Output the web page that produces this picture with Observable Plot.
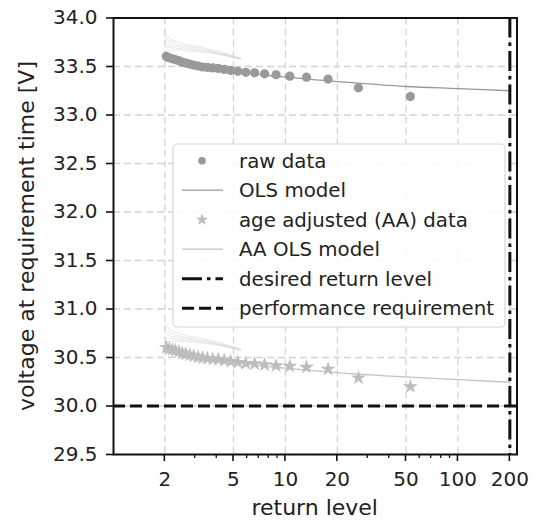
<!DOCTYPE html>
<html><head><meta charset="utf-8">
<script src="https://cdn.jsdelivr.net/npm/d3@7"></script>
<script src="https://cdn.jsdelivr.net/npm/@observablehq/plot@0.6"></script>
<style>
body{margin:0;background:#fff}
svg{font-family:"DejaVu Sans";}
</style>
</head><body><div id="chart"></div>
<script>
// ---- data ----
const returnLevels = [53, 26.5, 17.67, 13.25, 10.6, 8.83, 7.57, 6.63, 5.89, 5.3, 4.82, 4.42, 4.08, 3.79, 3.53, 3.31, 3.12, 2.94, 2.79, 2.65, 2.52, 2.41, 2.30, 2.21, 2.12, 2.04];
const rawVoltage = [33.19, 33.28, 33.37, 33.39, 33.40, 33.415, 33.425, 33.435, 33.44, 33.45, 33.46, 33.47, 33.48, 33.485, 33.49, 33.495, 33.505, 33.515, 33.525, 33.535, 33.545, 33.56, 33.57, 33.58, 33.59, 33.605];
const aaVoltage = [30.20, 30.29, 30.38, 30.40, 30.41, 30.415, 30.425, 30.435, 30.44, 30.45, 30.46, 30.47, 30.48, 30.485, 30.49, 30.495, 30.505, 30.515, 30.525, 30.535, 30.545, 30.56, 30.57, 30.58, 30.59, 30.605];

const modelX = [2, 3, 5, 8, 10, 20, 50, 100, 200];
const olsRaw = [33.56, 33.50, 33.45, 33.407, 33.39, 33.345, 33.294, 33.272, 33.25];
const olsAA = [30.56, 30.50, 30.45, 30.405, 30.39, 30.345, 30.30, 30.272, 30.245];

const fanX = [2.0, 2.03, 2.1, 2.2, 2.4, 2.7, 3.2, 3.8, 4.5, 5.5];
const fanRaw = [
  [33.88, 33.84, 33.80, 33.775, 33.75, 33.725, 33.70, 33.67, 33.635, 33.59],
  [33.82, 33.79, 33.765, 33.745, 33.725, 33.705, 33.685, 33.66, 33.625, 33.585],
  [33.76, 33.745, 33.73, 33.72, 33.705, 33.69, 33.67, 33.65, 33.62, 33.58],
  [33.70, 33.70, 33.70, 33.695, 33.685, 33.675, 33.66, 33.64, 33.615, 33.578],
  [33.64, 33.655, 33.665, 33.67, 33.67, 33.66, 33.65, 33.635, 33.61, 33.575]
];
const fanAA = [
  [30.88, 30.84, 30.80, 30.775, 30.75, 30.725, 30.70, 30.67, 30.635, 30.59],
  [30.82, 30.79, 30.765, 30.745, 30.725, 30.705, 30.685, 30.66, 30.625, 30.585],
  [30.76, 30.745, 30.73, 30.72, 30.705, 30.69, 30.67, 30.65, 30.62, 30.58],
  [30.70, 30.70, 30.70, 30.695, 30.685, 30.675, 30.66, 30.64, 30.615, 30.578],
  [30.64, 30.655, 30.665, 30.67, 30.67, 30.66, 30.65, 30.635, 30.61, 30.575]
];

const xMajor = [2, 5, 10, 20, 50, 100, 200];
const xMinor = [3, 4, 6, 7, 8, 9, 30, 40, 60, 70, 80, 90];
const yTicks = [29.5, 30.0, 30.5, 31.0, 31.5, 32.0, 32.5, 33.0, 33.5, 34.0];
const desiredReturnLevel = 200;
const performanceRequirement = 30.0;

const legendLabels = ["raw data", "OLS model", "age adjusted (AA) data", "AA OLS model", "desired return level", "performance requirement"];
const xLabel = "return level";
const yLabel = "voltage at requirement time [V]";

// ---- tables ----
const rawData = returnLevels.map((x, i) => ({x, y: rawVoltage[i]}));
const aaData = returnLevels.map((x, i) => ({x, y: aaVoltage[i]}));
const olsRawData = modelX.map((x, i) => ({x, y: olsRaw[i]}));
const olsAAData = modelX.map((x, i) => ({x, y: olsAA[i]}));
const fanData = [];
fanRaw.forEach((c, k) => c.forEach((y, i) => fanData.push({x: fanX[i], y, g: "r" + k})));
fanAA.forEach((c, k) => c.forEach((y, i) => fanData.push({x: fanX[i], y, g: "a" + k})));

const gridStyle = {stroke: "#d4d4d4", strokeOpacity: 1, strokeWidth: 1.3, strokeDasharray: "7,4"};

const plot = Plot.plot({
  width: 544, height: 521,
  marginLeft: 113, marginRight: 27.5, marginTop: 17.5, marginBottom: 67,
  x: {type: "log", domain: [1.008, 220], axis: null},
  y: {domain: [29.5, 34]},
  style: {fontFamily: "DejaVu Sans", fontSize: "20px", color: "#222", background: "white"},
  marks: [
    Plot.gridX(xMajor, gridStyle),
    Plot.gridY(yTicks, gridStyle),
    Plot.line(fanData, {x: "x", y: "y", z: "g", stroke: "#d2d2d2", strokeOpacity: 0.45, strokeWidth: 1.1, curve: "monotone-x"}),
    Plot.line(olsRawData, {x: "x", y: "y", stroke: "#999", strokeWidth: 1.3, curve: "monotone-x"}),
    Plot.line(olsAAData, {x: "x", y: "y", stroke: "#c2c2c2", strokeWidth: 1.3, curve: "monotone-x"}),
    Plot.dot(rawData, {x: "x", y: "y", r: 4.6, fill: "#999", stroke: "none"}),
    Plot.dot(aaData, {x: "x", y: "y", r: 4.7, symbol: "star", fill: "#bdbdbd", stroke: "none"}),
    Plot.ruleX([desiredReturnLevel], {stroke: "#111", strokeWidth: 3, strokeDasharray: "20,5,3.5,5"}),
    Plot.ruleY([performanceRequirement], {stroke: "#111", strokeWidth: 3, strokeDasharray: "12,5"}),
    Plot.frame({stroke: "#111", strokeWidth: 2}),
    Plot.text(xMajor, {x: d => d, text: d => String(d), frameAnchor: "bottom", lineAnchor: "top", dy: 17, fill: "#222", fontSize: 20}),
    Plot.axisY(yTicks, {tickSize: 7, tickPadding: 9, tickFormat: d => d.toFixed(1), label: null, stroke: "#111", strokeWidth: 1.6})
  ]
});

document.getElementById("chart").appendChild(plot);
const svg = d3.select(plot);
const sx = plot.scale("x");
const bottom = 521 - 67;

// x ticks (major and minor) through Plot's x scale
const tg = svg.append("g").attr("stroke", "#111");
xMajor.forEach(v => tg.append("line").attr("x1", sx.apply(v)).attr("x2", sx.apply(v))
  .attr("y1", bottom).attr("y2", bottom + 7).attr("stroke-width", 1.6));
xMinor.forEach(v => tg.append("line").attr("x1", sx.apply(v)).attr("x2", sx.apply(v))
  .attr("y1", bottom).attr("y2", bottom + 4).attr("stroke-width", 1.3));

// axis labels
svg.append("text").attr("x", 314.7).attr("y", 515).attr("text-anchor", "middle")
  .attr("font-size", 22).attr("fill", "#222").text(xLabel);
svg.append("text").attr("transform", "translate(34,236) rotate(-90)").attr("text-anchor", "middle")
  .attr("font-size", 22).attr("fill", "#222").text(yLabel);

// legend
const lg = svg.append("g");
lg.append("rect").attr("x", 173).attr("y", 144).attr("width", 332).attr("height", 183)
  .attr("rx", 4).attr("fill", "white").attr("fill-opacity", 0.85).attr("stroke", "#d6d6d6").attr("stroke-width", 1.2);
const y0 = 160.7, dy = 29.5, hx1 = 182, hx2 = 223, hm = 202;
legendLabels.forEach((t, i) => {
  lg.append("text").attr("x", 239).attr("y", y0 + i * dy).attr("dy", "0.35em").attr("text-anchor", "start")
    .attr("font-size", 19.8).attr("fill", "#222").text(t);
});
lg.append("circle").attr("cx", hm).attr("cy", y0).attr("r", 3.8).attr("fill", "#999");
lg.append("line").attr("x1", hx1).attr("x2", hx2).attr("y1", y0 + dy).attr("y2", y0 + dy).attr("stroke", "#999").attr("stroke-width", 1.3);
lg.append("path").attr("d", d3.symbol(d3.symbolStar, 50)()).attr("transform", `translate(${hm},${y0 + 2 * dy})`).attr("fill", "#bdbdbd");
lg.append("line").attr("x1", hx1).attr("x2", hx2).attr("y1", y0 + 3 * dy).attr("y2", y0 + 3 * dy).attr("stroke", "#c2c2c2").attr("stroke-width", 1.3);
lg.append("line").attr("x1", hx1).attr("x2", hx2).attr("y1", y0 + 4 * dy).attr("y2", y0 + 4 * dy).attr("stroke", "#111").attr("stroke-width", 3).attr("stroke-dasharray", "20,5,3.5,5");
lg.append("line").attr("x1", hx1).attr("x2", hx2).attr("y1", y0 + 5 * dy).attr("y2", y0 + 5 * dy).attr("stroke", "#111").attr("stroke-width", 3).attr("stroke-dasharray", "12,5");
</script>
</body></html>
